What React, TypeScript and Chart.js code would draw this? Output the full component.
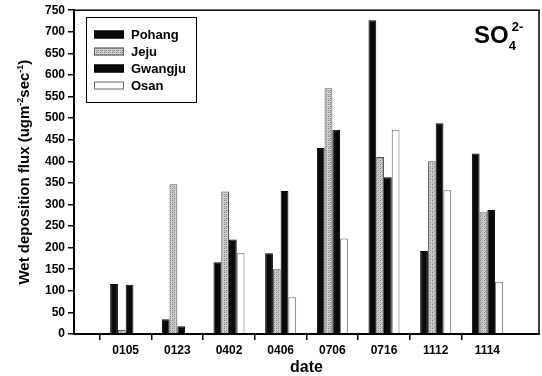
import React, { useEffect, useRef } from 'react';
import { Chart, registerables } from 'chart.js';

Chart.register(...registerables);

// ---- data ----
const dates = ['0105', '0123', '0402', '0406', '0706', '0716', '1112', '1114'];
const pohang = [116, 34, 166, 187, 431, 727, 192, 418];
const jeju = [9, 347, 330, 150, 569, 410, 400, 282];
const gwangju = [114, 18, 219, 331, 473, 363, 488, 287];
const osan = [1, 2, 187, 85, 221, 473, 333, 121];
const seriesNames = ['Pohang', 'Jeju', 'Gwangju', 'Osan'];
const yMin = 0;
const yMax = 750;
const yStep = 50;
const xTitle = 'date';

const FONT = '"Liberation Sans", Arial, Helvetica, sans-serif';

function makeStipple(): CanvasPattern | string {
  const c = document.createElement('canvas');
  c.width = 4;
  c.height = 4;
  const g = c.getContext('2d');
  if (!g) return '#bcbcbc';
  g.fillStyle = '#cfcfcf';
  g.fillRect(0, 0, 4, 4);
  g.fillStyle = '#7a7a7a';
  g.fillRect(0, 0, 1, 1);
  g.fillRect(2, 2, 1, 1);
  g.fillStyle = '#a0a0a0';
  g.fillRect(2, 0, 1, 1);
  g.fillRect(0, 2, 1, 1);
  g.fillRect(1, 3, 1, 1);
  const p = g.createPattern(c, 'repeat');
  return p || '#bcbcbc';
}

export default function App() {
  const ref = useRef<HTMLCanvasElement | null>(null);

  useEffect(() => {
    document.body.style.margin = '0';
    const canvas = ref.current;
    if (!canvas) return;
    const stipple = makeStipple();
    const pad = (arr: number[]) => [null, ...arr, null];
    const labels = ['', ...dates, ''];
    const fills: any[] = ['#0a0a0a', stipple, '#0a0a0a', '#ffffff'];
    const borders = ['#000000', '#555555', '#000000', '#666666'];
    const values = [pohang, jeju, gwangju, osan];

    const decor = {
      id: 'decor',
      afterDraw(chart: any) {
        const ctx = chart.ctx as CanvasRenderingContext2D;
        const a = chart.chartArea;
        ctx.save();
        // frame
        ctx.strokeStyle = '#000';
        ctx.lineWidth = 1.5;
        ctx.strokeRect(a.left, a.top, a.right - a.left, a.bottom - a.top);

        // legend
        const lx = 86, ly = 17, lw = 110, lh = 85;
        ctx.lineWidth = 1;
        ctx.strokeStyle = '#000';
        ctx.strokeRect(lx + 0.5, ly + 0.5, lw, lh);
        const rows = [34.5, 51.5, 68.5, 85.5];
        ctx.font = `bold 13px ${FONT}`;
        ctx.textBaseline = 'middle';
        ctx.textAlign = 'left';
        seriesNames.forEach((n, i) => {
          const cy = rows[i];
          ctx.fillStyle = fills[i];
          ctx.fillRect(94, cy - 4, 30, 8);
          ctx.strokeStyle = borders[i];
          ctx.strokeRect(94.5, cy - 3.5, 29, 7);
          ctx.fillStyle = '#000';
          ctx.fillText(n, 131, cy + 0.5);
        });

        // SO4 2- label
        ctx.fillStyle = '#000';
        ctx.textBaseline = 'alphabetic';
        ctx.font = `bold 24px ${FONT}`;
        ctx.fillText('SO', 474, 43);
        const soW = ctx.measureText('SO').width;
        ctx.font = `bold 13px ${FONT}`;
        ctx.fillText('4', 474 + soW, 50);
        ctx.fillText('2-', 474 + soW + 3, 31);

        // x title
        ctx.font = `bold 16px ${FONT}`;
        ctx.textAlign = 'center';
        ctx.fillText(xTitle, (a.left + a.right) / 2, 372);

        // y title with superscripts
        const parts: [string, boolean][] = [
          ['Wet deposition flux (ugm', false],
          ['-2', true],
          ['sec', false],
          ['-1', true],
          [')', false],
        ];
        const big = `bold 15px ${FONT}`;
        const small = `bold 9px ${FONT}`;
        let total = 0;
        parts.forEach(([t, sup]) => {
          ctx.font = sup ? small : big;
          total += ctx.measureText(t).width;
        });
        ctx.translate(29, (a.top + a.bottom) / 2);
        ctx.rotate(-Math.PI / 2);
        ctx.textAlign = 'left';
        let x = -total / 2;
        parts.forEach(([t, sup]) => {
          ctx.font = sup ? small : big;
          ctx.fillText(t, x, sup ? -6 : 0);
          x += ctx.measureText(t).width;
        });
        ctx.restore();
      },
    };

    const chart = new Chart(canvas, {
      type: 'bar',
      data: {
        labels,
        datasets: seriesNames.map((n, i) => ({
          label: n,
          data: pad(values[i]) as any,
          backgroundColor: fills[i],
          borderColor: borders[i],
          borderWidth: 1,
          categoryPercentage: 0.6,
          barPercentage: 1.0,
        })),
      },
      options: {
        responsive: false,
        animation: false,
        layout: { padding: { left: 0, right: 3, top: 10, bottom: 0 } },
        plugins: { legend: { display: false }, tooltip: { enabled: false } },
        scales: {
          x: {
            offset: false,
            afterFit(s: any) { s.height = 42; },
            grid: {
              drawOnChartArea: false,
              drawTicks: true,
              tickLength: 6,
              lineWidth: 1.5,
              color: (c: any) => (c.index === 0 || c.index === labels.length - 1 ? 'rgba(0,0,0,0)' : '#000'),
            },
            border: { display: true, color: '#000', width: 2 },
            ticks: {
              color: '#000',
              padding: 3,
              maxRotation: 0,
              autoSkip: false,
              font: { family: FONT, size: 12, weight: 'bold' },
            },
          },
          y: {
            min: yMin,
            max: yMax,
            afterFit(s: any) { s.width = 74; },
            grid: { drawOnChartArea: false, drawTicks: true, tickLength: 6, lineWidth: 1.5, color: '#000' },
            border: { display: true, color: '#000', width: 2 },
            ticks: {
              stepSize: yStep,
              color: '#000',
              padding: 3,
              font: { family: FONT, size: 12, weight: 'bold' },
            },
          },
        },
      },
      plugins: [decor],
    });
    return () => chart.destroy();
  }, []);

  return (
    <div style={{ position: 'absolute', left: 0, top: 0, width: 542, height: 376, background: '#fff' }}>
      <canvas ref={ref} width={542} height={376} style={{ width: 542, height: 376, display: 'block' }} />
    </div>
  );
}
